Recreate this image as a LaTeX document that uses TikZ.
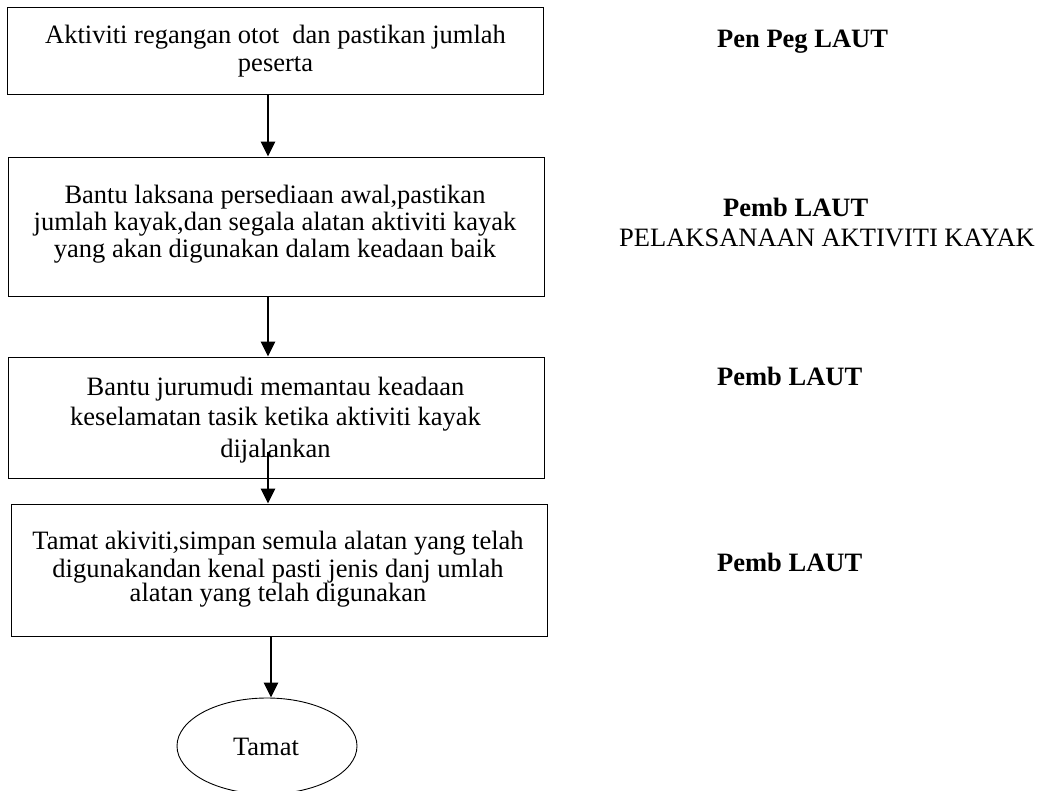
\documentclass[tikz,border=0pt]{standalone}
\usepackage{fontspec}
\setmainfont{Liberation Serif}
\usetikzlibrary{arrows.meta,shapes.geometric}
\begin{document}
\begin{tikzpicture}[x=1pt,y=-1pt,
  box/.style={draw=black,line width=0.9pt,inner sep=0pt,minimum width=536pt},
  txt/.style={anchor=base,inner sep=0pt,font=\fontsize{26.5}{30}\selectfont},
  lbl/.style={anchor=base west,inner sep=0pt,font=\fontsize{26.5}{30}\selectfont\bfseries},
  lblr/.style={anchor=base west,inner sep=0pt,font=\fontsize{26.5}{30}\selectfont},
  arr/.style={line width=2.5pt,-{Triangle[width=14pt,length=15pt]}}]
\useasboundingbox (0,0) rectangle (1047,791);
% boxes
\node[box,minimum height=87pt] (b1) at (275,50.5) {};
\node[box,minimum height=139pt] (b2) at (276,226.5) {};
\node[box,minimum height=121pt] (b3) at (276,417.5) {};
\node[box,minimum height=132pt] (b4) at (279,570) {};
\node[draw=black,line width=0.9pt,ellipse,inner sep=0pt,minimum width=180pt,minimum height=96pt] (e) at (267,746) {};
% box texts
\node[txt] (t1a) at (275.5,44) {Aktiviti regangan otot\ \ dan pastikan jumlah};
\node[txt] (t1b) at (275.5,72) {peserta};
\node[txt] (t2a) at (275,204) {Bantu laksana persediaan awal,pastikan};
\node[txt] (t2b) at (275,231) {jumlah kayak,dan segala alatan aktiviti kayak};
\node[txt] (t2c) at (275,258) {yang akan digunakan dalam keadaan baik};
\node[txt] (t3a) at (275.5,396) {Bantu jurumudi memantau keadaan};
\node[txt] (t3b) at (275.5,426) {keselamatan tasik ketika aktiviti kayak};
\node[txt] (t3c) at (275.5,457) {dijalankan};
\node[txt] (t4a) at (278,549) {Tamat akiviti,simpan semula alatan yang telah};
\node[txt] (t4b) at (278,577) {digunakandan kenal pasti jenis danj umlah};
\node[txt] (t4c) at (278,601) {alatan yang telah digunakan};
\node[txt] (te) at (266,755) {Tamat};
% right labels
\node[lbl] (r1) at (717,48) {Pen Peg LAUT};
\node[lbl] (r2) at (723,217) {Pemb LAUT};
\node[lblr] (r2b) at (619,247) {PELAKSANAAN AKTIVITI KAYAK};
\node[lbl] (r3) at (717,386) {Pemb LAUT};
\node[lbl] (r4) at (717,571) {Pemb LAUT};
% connectors
\coordinate (ax) at (268,0);
\coordinate (bx) at (271,0);
\coordinate (s3) at (268,452);
\draw[arr] (b1.south -| ax) -- (b2.north -| ax);
\draw[arr] (b2.south -| ax) -- (b3.north -| ax);
\draw[arr] (s3) -- (b4.north -| ax);
\draw[arr] (b4.south -| bx) -- (e.north -| bx);
\end{tikzpicture}
\end{document}
